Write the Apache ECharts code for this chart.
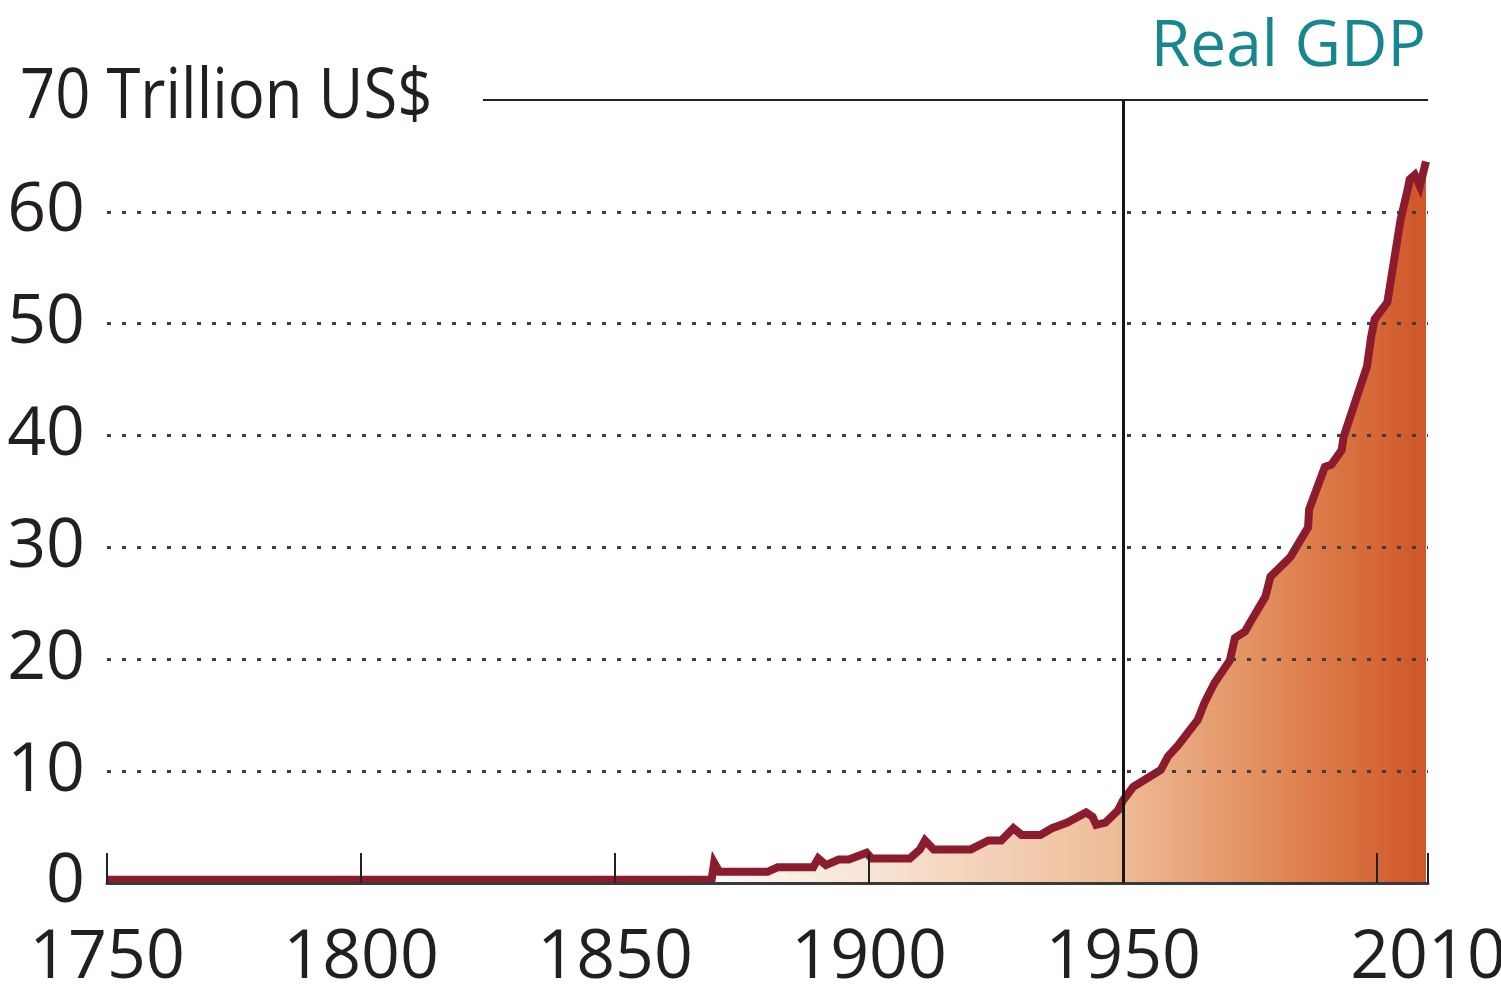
<!DOCTYPE html>
<html>
<head>
<meta charset="utf-8">
<title>Real GDP</title>
<script src="https://cdn.jsdelivr.net/npm/echarts@6/dist/echarts.min.js"></script>
<style>
  html, body { margin: 0; padding: 0; background: #ffffff; overflow: hidden; }
  #chart { width: 1501px; height: 988px; }
</style>
</head>
<body>
<div id="chart"></div>
<script>
// World real GDP, trillion US$
const years = [
  1750, 1800, 1850, 1869, 1869.5, 1870.5, 1880, 1882, 1889, 1890, 1891.5, 1894, 1896,
  1899.5, 1900.5, 1908, 1910, 1911, 1912.7, 1920, 1923.5, 1926, 1928.4, 1930, 1933.7,
  1936, 1939, 1942.7, 1944, 1944.7, 1946.5, 1949, 1950, 1951.5, 1952, 1957.4, 1958.8,
  1960.8, 1964.7, 1966, 1968, 1971, 1972, 1974, 1975, 1978, 1979, 1982.4, 1983, 1986.4,
  1986.6, 1989.7, 1991, 1993, 1993.4, 1998, 1998.8, 1999.5, 2002, 2004.6, 2006, 2006.4,
  2007.4, 2008.4, 2009.6
];
const gdp = [
  0.3, 0.3, 0.3, 0.3, 1.8, 1.0, 1.0, 1.4, 1.4, 2.2, 1.6, 2.1, 2.1,
  2.7, 2.2, 2.2, 3.0, 3.8, 3.0, 3.0, 3.8, 3.8, 4.9, 4.3, 4.3,
  4.9, 5.4, 6.3, 5.9, 5.2, 5.4, 6.5, 7.4, 8.3, 8.6, 10.1, 11.3,
  12.3, 14.6, 16.1, 17.9, 19.9, 21.9, 22.5, 23.3, 25.6, 27.4, 28.9, 29.2, 31.8,
  33.4, 37.2, 37.4, 38.7, 39.9, 46.2, 48.8, 50.4, 51.9, 59.3, 62.0, 62.9,
  63.3, 62.3, 64.5
];

const xMin = 1750, xMax = 2010, xStep = 50;
const xLabelYears = [1750, 1800, 1850, 1900, 1950, 2010];
const yMin = 0, yMax = 70, yStep = 10;
const unitText = 'Trillion US$';
const titleText = 'Real GDP';
const markerYear = 1950;
const topRuleStartYear = 1824;

const FONT = "'Open Sans', 'Noto Sans', sans-serif";
const INK = '#231f20';

const seriesData = years.map((y, i) => [y, gdp[i]]);

const chart = echarts.init(document.getElementById('chart'), null, { renderer: 'canvas' });

chart.setOption({
  animation: false,
  backgroundColor: '#ffffff',
  title: {
    text: titleText,
    right: 70,
    top: 11,
    textStyle: { fontFamily: FONT, fontSize: 64, fontWeight: 'normal', color: '#17868f' }
  },
  grid: { left: 107, right: 73, top: 100, bottom: 105, containLabel: false, outerBoundsMode: 'none' },
  xAxis: {
    type: 'value',
    min: xMin,
    max: xMax,
    interval: xStep,
    z: 3,
    axisLine: { show: true, lineStyle: { color: '#3a3a3a', width: 3 } },
    axisTick: { show: true, inside: true, length: 30, lineStyle: { color: '#222222', width: 2 } },
    splitLine: { show: false },
    axisLabel: {
      margin: 42,
      fontFamily: FONT,
      fontSize: 68,
      color: INK,
      hideOverlap: false,
      formatter: v => (xLabelYears.indexOf(v) >= 0 ? String(v) : '')
    }
  },
  yAxis: {
    type: 'value',
    min: yMin,
    max: yMax,
    interval: yStep,
    z: 3,
    axisLine: { show: false },
    axisTick: { show: false },
    splitLine: {
      show: true,
      showMinLine: false,
      showMaxLine: false,
      lineStyle: { type: [4, 11], color: '#3f3f3f', width: 3 }
    },
    axisLabel: {
      margin: 22,
      fontFamily: FONT,
      fontSize: 68,
      color: INK,
      formatter: v => (v === yMax ? '' : String(v))
    }
  },
  series: [
    {
      name: titleText,
      type: 'line',
      data: seriesData,
      symbol: 'none',
      z: 2,
      lineStyle: { color: '#8d1b2e', width: 8, join: 'miter' },
      areaStyle: {
        opacity: 1,
        color: {
          type: 'linear', x: 0, y: 0, x2: 1, y2: 0,
          colorStops: [
            { offset: 0.0, color: '#ffffff' },
            { offset: 0.45, color: '#fefaf6' },
            { offset: 0.58, color: '#f8e4d5' },
            { offset: 0.77, color: '#eebb96' },
            { offset: 0.9, color: '#df8350' },
            { offset: 1.0, color: '#cf5528' }
          ]
        }
      }
    },
    {
      // vertical marker at 1950 and the solid rule along the axis maximum
      type: 'line',
      data: [],
      z: 4,
      silent: true,
      markLine: {
        silent: true,
        symbol: 'none',
        label: { show: false },
        data: [
          { xAxis: markerYear, lineStyle: { color: '#161616', width: 3, type: 'solid' } },
          [
            { coord: [topRuleStartYear, yMax], lineStyle: { color: '#222222', width: 2, type: 'solid' } },
            { coord: [xMax, yMax] }
          ]
        ]
      }
    }
  ],
  graphic: [
    {
      type: 'text',
      x: 20,
      y: 98,
      scaleX: 0.88,
      style: {
        text: yMax + ' ' + unitText,
        fontFamily: FONT,
        fontSize: 70,
        fill: INK,
        align: 'left',
        verticalAlign: 'middle'
      }
    }
  ]
});
</script>
</body>
</html>
